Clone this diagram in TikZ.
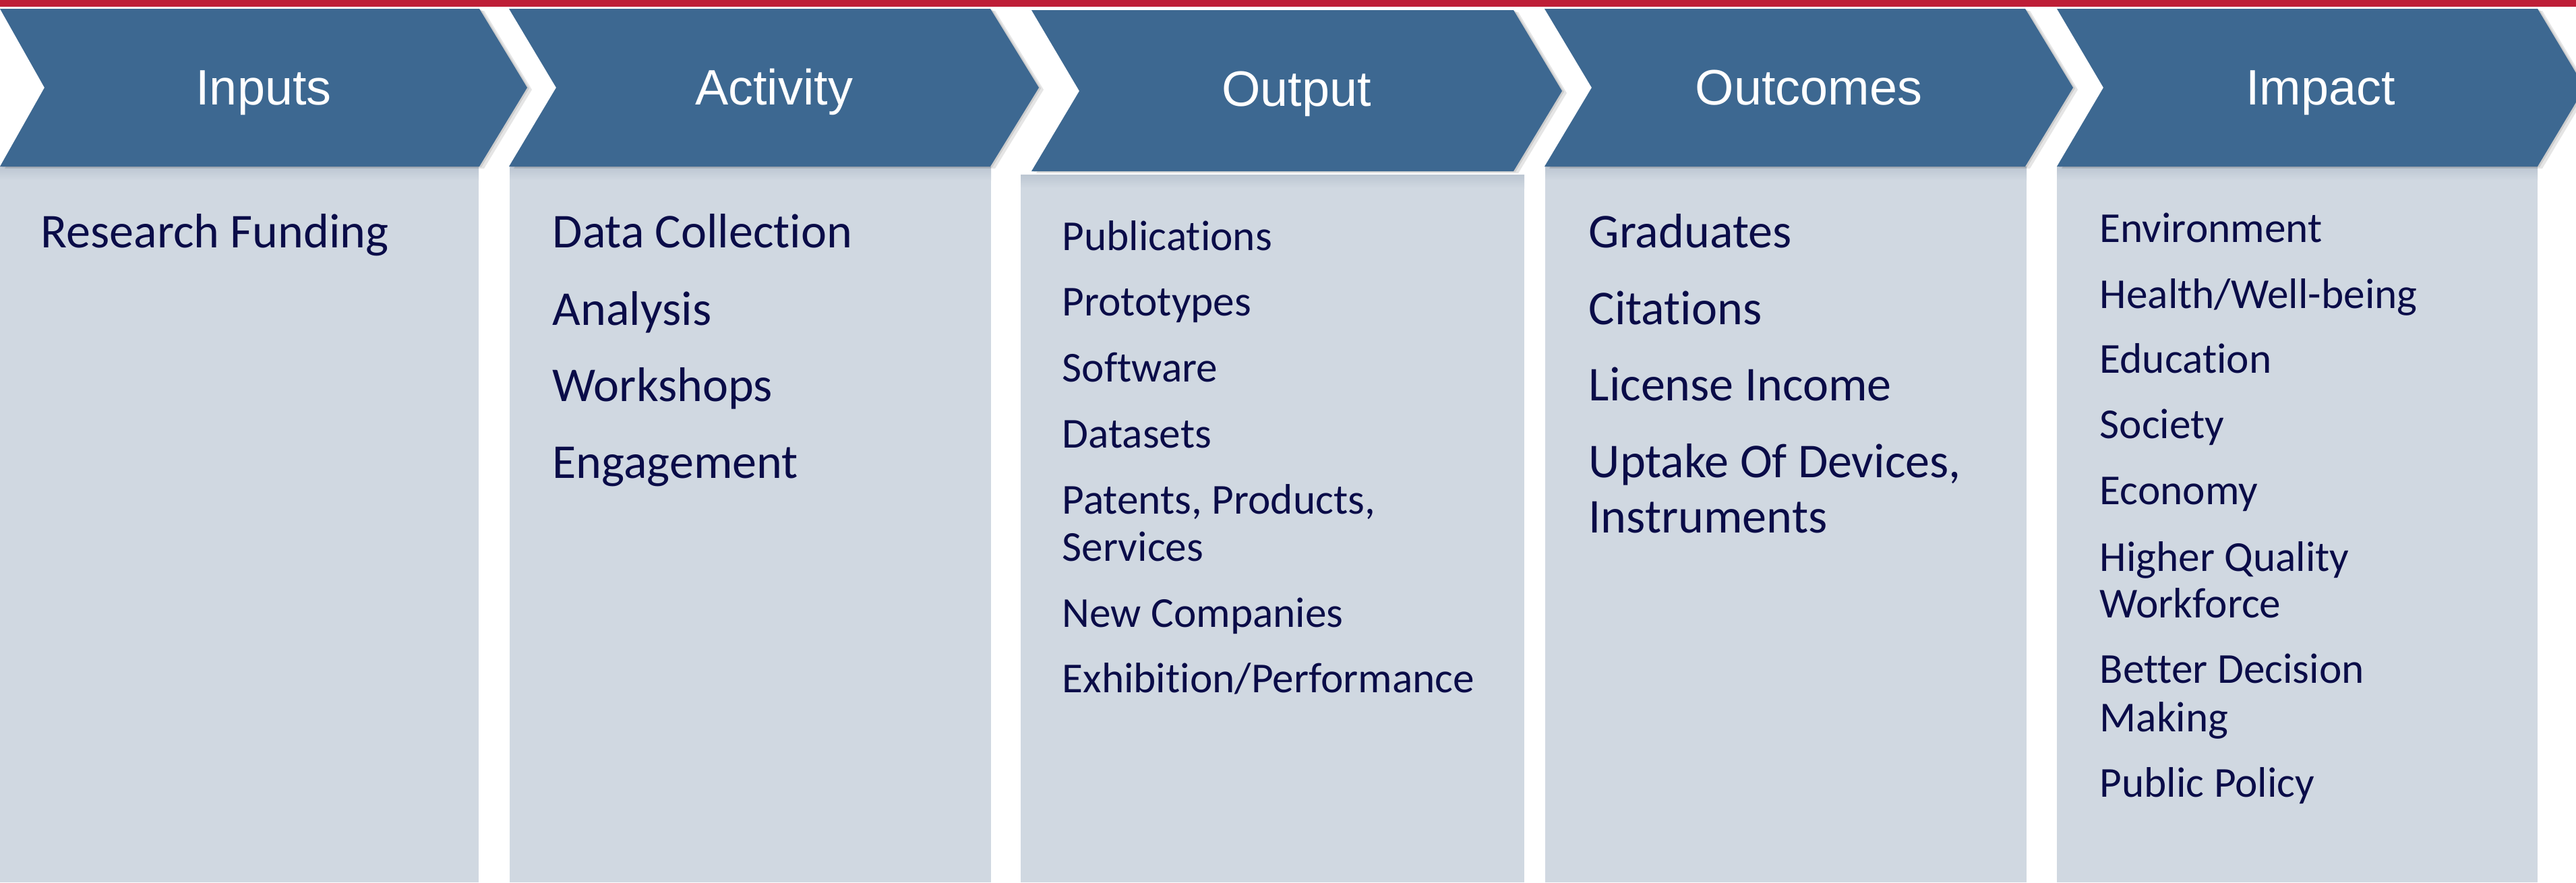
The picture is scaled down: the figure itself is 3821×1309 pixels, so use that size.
\documentclass[tikz,border=0pt]{standalone}
\usepackage{fontspec}
\setmainfont{Carlito}[Ligatures={NoCommon,NoContextual},RawFeature={-liga;-clig;-calt}]
\newfontfamily\headfont{Liberation Sans}
\definecolor{chev}{RGB}{61,104,145}
\definecolor{boxfill}{RGB}{208,216,225}
\definecolor{boxtop}{RGB}{188,198,210}
\definecolor{txt}{RGB}{10,12,72}
\definecolor{redbar}{RGB}{190,30,55}
\newcommand{\mychev}[7]{%
  \fill[shadowc] (#1+7,#5+3) -- (#3+7,#5+3) -- (#4+7,#6+3) -- (#3+7,#7+3) -- (#1+7,#7+3) -- (#2+7,#6+3) -- cycle;
  \fill[shadowc] (#1+3,#5+1) -- (#3+3,#5+1) -- (#4+3,#6+1) -- (#3+3,#7+1) -- (#1+3,#7+1) -- (#2+3,#6+1) -- cycle;
  \fill[chevron] (#1,#5) -- (#3,#5) -- (#4,#6) -- (#3,#7) -- (#1,#7) -- (#2,#6) -- cycle;}
\newcommand{\mypanel}[3]{%
  \fill[panel] (#1,#3) rectangle (#2,1309);
  \shade[top color=boxtop, bottom color=boxfill] (#1,#3) rectangle (#2,#3+20);}
\begin{document}
\begin{tikzpicture}[x=0.01cm,y=-0.01cm,
  chevron/.style={fill=chev},
  panel/.style={fill=boxfill},
  shadowc/.style={fill=black, opacity=0.10},
  head/.style={font=\headfont\fontsize{21}{25}\selectfont, text=white, inner sep=0pt, anchor=base},
  bigitem/.style={font=\fontsize{20.5}{24}\selectfont, text=txt, inner sep=0pt, anchor=base west},
  smallitem/.style={font=\fontsize{18}{21}\selectfont, text=txt, inner sep=0pt, anchor=base west}]
\useasboundingbox (0,0) rectangle (3821,1309);
\clip (0,0) rectangle (3821,1309);
\fill[white] (0,0) rectangle (3821,1309);
\fill[redbar] (0,0) rectangle (3821,10);
% panels
\mypanel{0}{710}{247}
\mypanel{756}{1470}{247}
\mypanel{1514}{2261}{259}
\mypanel{2292}{3006}{247}
\mypanel{3051}{3764}{247}
% chevrons
\mychev{0}{66}{711}{782}{13}{130}{247}
\mychev{755}{825}{1469}{1541}{13}{130}{247}
\mychev{1530}{1601}{2245}{2317}{15}{135}{254}
\mychev{2291}{2361}{3004}{3075}{13}{130}{247}
\mychev{3051}{3120}{3764}{3834}{13}{130}{247}
% headers
\node[head] (h1) at (391,155) {Inputs};
\node[head] (h2) at (1148,155) {Activity};
\node[head] (h3) at (1923,157) {Output};
\node[head] (h4) at (2683,155) {Outcomes};
\node[head] (h5) at (3442,155) {Impact};
% column 1
\node[bigitem] (a1) at (60,367) {Research Funding};
% column 2
\node[bigitem] (b1) at (819,367) {Data Collection};
\node[bigitem] (b2) at (819,482) {Analysis};
\node[bigitem] (b3) at (819,595) {Workshops};
\node[bigitem] (b4) at (819,709) {Engagement};
% column 3
\node[smallitem] (c1) at (1575,371) {Publications};
\node[smallitem] (c2) at (1575,468) {Prototypes};
\node[smallitem] (c3) at (1575,566) {Software};
\node[smallitem] (c4) at (1575,664) {Datasets};
\node[smallitem] (c5) at (1575,762) {Patents, Products,};
\node[smallitem] (c5b) at (1575,832) {Services};
\node[smallitem] (c6) at (1575,930) {New Companies};
\node[smallitem] (c7) at (1575,1027) {Exhibition/Performance};
% column 4
\node[bigitem] (d1) at (2356,367) {Graduates};
\node[bigitem] (d2) at (2356,481) {Citations};
\node[bigitem] (d3) at (2356,594) {License Income};
\node[bigitem] (d4) at (2356,708) {Uptake Of Devices,};
\node[bigitem] (d4b) at (2356,790) {Instruments};
% column 5
\node[smallitem] (e1) at (3114,359) {Environment};
\node[smallitem] (e2) at (3114,457) {Health/Well-being};
\node[smallitem] (e3) at (3114,553) {Education};
\node[smallitem] (e4) at (3114,650) {Society};
\node[smallitem] (e5) at (3114,748) {Economy};
\node[smallitem] (e6) at (3114,847) {Higher Quality};
\node[smallitem] (e6b) at (3114,916) {Workforce};
\node[smallitem] (e7) at (3114,1013) {Better Decision};
\node[smallitem] (e7b) at (3114,1085) {Making};
\node[smallitem] (e8) at (3114,1182) {Public Policy};
\end{tikzpicture}
\end{document}
